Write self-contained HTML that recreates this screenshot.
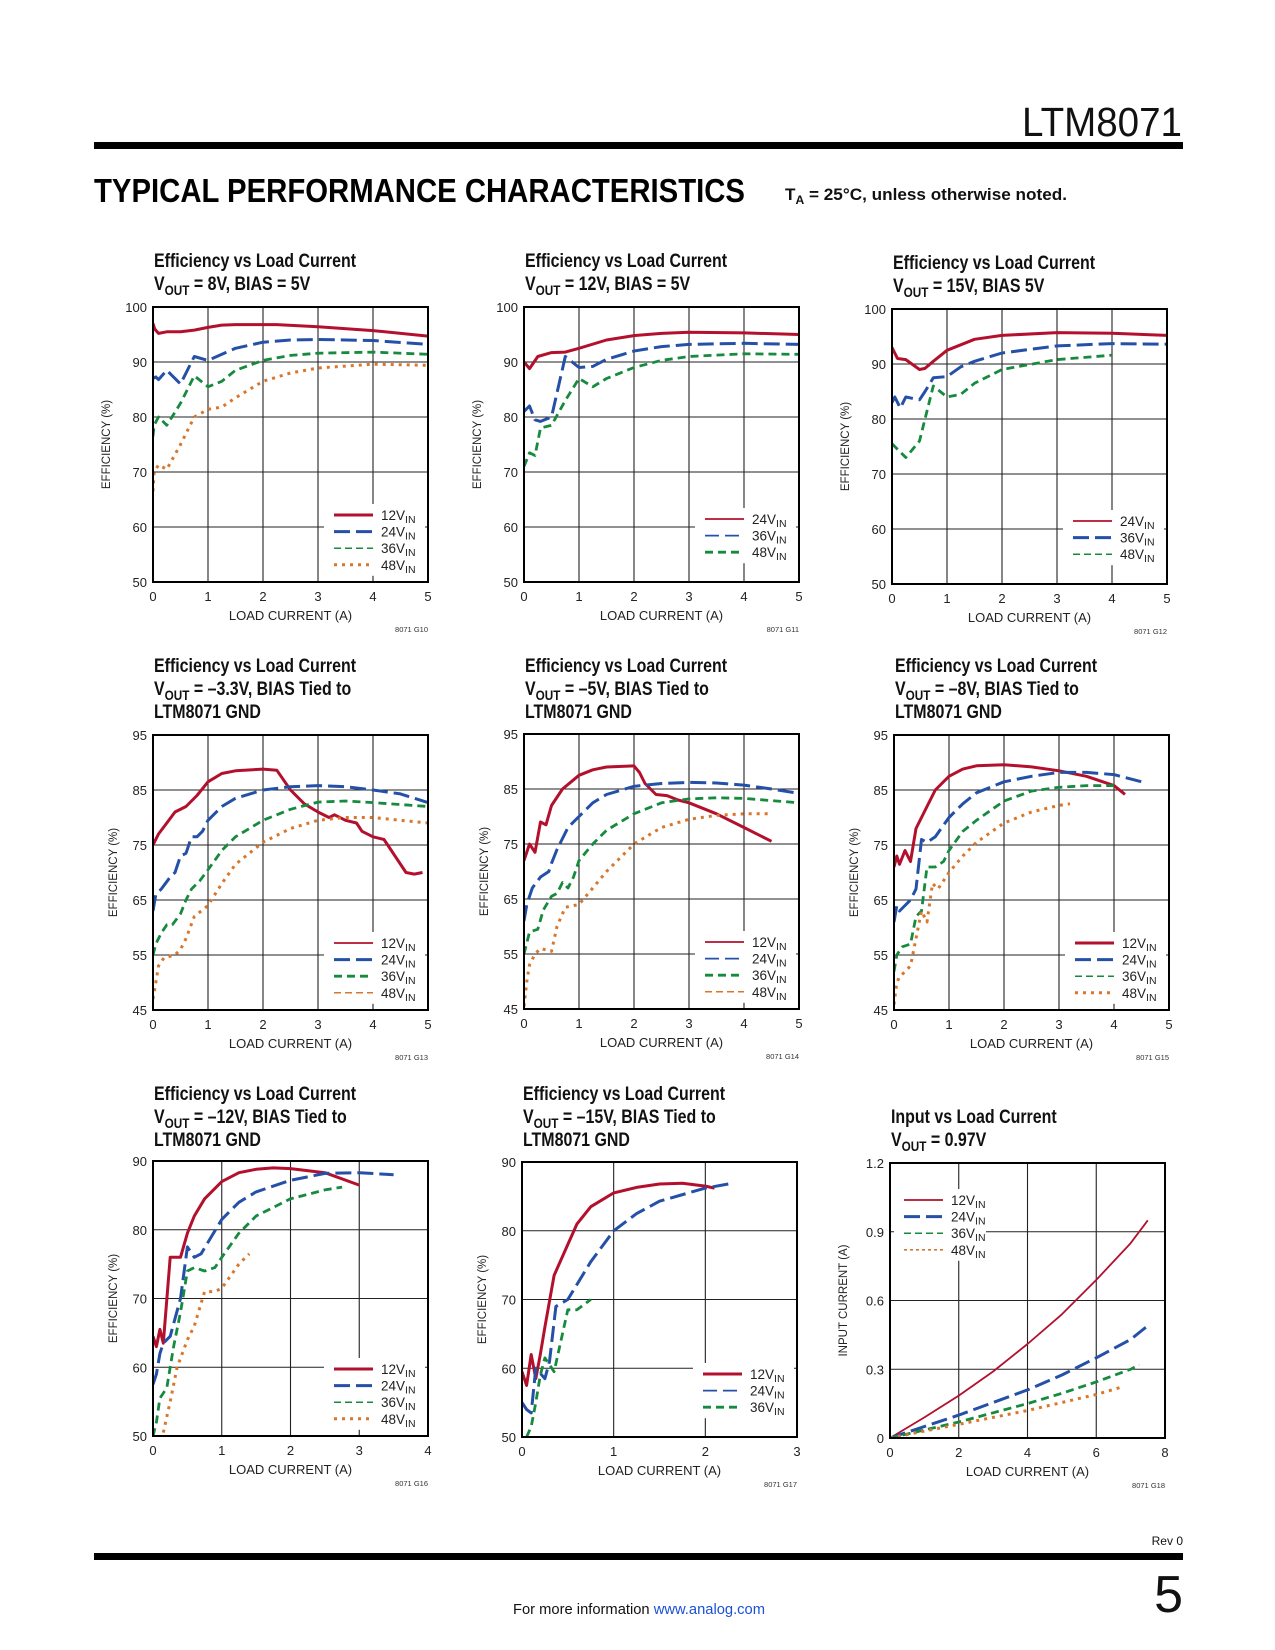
<!DOCTYPE html>
<html><head><meta charset="utf-8"><style>
html,body{margin:0;padding:0;background:#fff;}
svg{display:block;font-family:"Liberation Sans",sans-serif;}
</style></head><body>
<svg id="page" width="1275" height="1650" viewBox="0 0 1275 1650" xmlns="http://www.w3.org/2000/svg">
<text x="1182" y="136" text-anchor="end" font-size="41" fill="#111" font-weight="300" textLength="160" lengthAdjust="spacingAndGlyphs">LTM8071</text>
<rect x="94" y="142" width="1089" height="7" fill="#000"/>
<text x="94" y="202" font-size="33" font-weight="bold" fill="#000" textLength="651" lengthAdjust="spacingAndGlyphs" style="letter-spacing:0">TYPICAL PERFORMANCE CHARACTERISTICS</text>
<text x="785" y="200" font-size="17" font-weight="bold" fill="#111" textLength="282" lengthAdjust="spacingAndGlyphs">T<tspan font-size="12" dy="4">A</tspan><tspan dy="-4"> = 25°C, unless otherwise noted.</tspan></text>
<g id="charts"></g>
<text x="1183" y="1545" text-anchor="end" font-size="12" fill="#111">Rev 0</text>
<rect x="94" y="1553" width="1089" height="7" fill="#000"/>
<text x="1183" y="1612" text-anchor="end" font-size="52" fill="#111" font-weight="300">5</text>
<text x="639" y="1614" text-anchor="middle" font-size="15" fill="#111" textLength="252" lengthAdjust="spacingAndGlyphs">For more information <tspan fill="#1a4fd8">www.analog.com</tspan></text>
</svg>
<script>
// ---- Chart data (x = load current A, y = efficiency % / input current A) ----
const c1_12 = [[0,97],[0.03,96],[0.1,95.2],[0.25,95.5],[0.5,95.5],[0.75,95.8],[1,96.3],[1.25,96.7],[1.5,96.8],[2,96.8],[2.25,96.8],[3,96.4],[4,95.7],[5,94.7]];
const c1_24 = [[0,87],[0.05,87.3],[0.1,86.8],[0.25,88.5],[0.5,86],[0.75,91],[1,90.3],[1.5,92.5],[2,93.6],[2.5,94],[3,94.1],[4,93.9],[5,93.2]];
const c1_36 = [[0,76.5],[0.02,78.5],[0.1,80],[0.25,78.5],[0.5,82.5],[0.75,87.5],[1,85.5],[1.25,86.5],[1.5,88.5],[2,90.3],[2.5,91.2],[3,91.6],[4,91.8],[5,91.4]];
const c1_48 = [[0,66.5],[0.02,70],[0.1,71.3],[0.25,70.5],[0.5,75],[0.75,80],[1,81.4],[1.25,81.8],[1.5,83.5],[2,86.5],[2.5,88],[3,88.9],[4,89.6],[5,89.4]];

const c2_24 = [[0,90],[0.1,88.8],[0.25,91],[0.5,91.7],[0.75,91.8],[1,92.5],[1.5,94],[2,94.8],[2.5,95.2],[3,95.4],[4,95.3],[5,95]];
const c2_36 = [[0,81],[0.1,82],[0.2,79.5],[0.3,79.2],[0.5,80],[0.75,91],[1,89],[1.25,89.2],[1.5,90.5],[2,92],[2.5,92.8],[3,93.2],[4,93.4],[5,93.2]];
const c2_48 = [[0,71],[0.1,73.5],[0.2,73],[0.3,78],[0.5,78.5],[0.75,83],[1,87],[1.25,85.5],[1.5,87],[2,89],[2.5,90.3],[3,91],[4,91.5],[5,91.4]];

const c3_24 = [[0,93],[0.1,91],[0.25,90.8],[0.5,89],[0.6,89.2],[0.75,90.5],[1,92.5],[1.5,94.5],[2,95.2],[3,95.7],[4,95.6],[5,95.2]];
const c3_36 = [[0,83],[0.05,84],[0.15,82],[0.25,84],[0.5,83.5],[0.6,85],[0.75,87.5],[1,87.7],[1.25,89.5],[1.5,90.5],[2,92],[3,93.3],[4,93.7],[5,93.6]];
const c3_48 = [[0,75.5],[0.1,74.5],[0.25,73],[0.5,76],[0.6,80],[0.75,86],[1,84],[1.25,84.5],[1.5,86.5],[2,89],[3,90.8],[4,91.6]];

const c4_12 = [[0,75],[0.1,77],[0.25,79],[0.4,81],[0.6,82],[0.8,84],[1,86.5],[1.25,88],[1.5,88.5],[2,88.8],[2.25,88.6],[2.5,85],[2.75,82.5],[3,81],[3.2,80],[3.3,80.5],[3.5,79.5],[3.7,79],[3.8,77.5],[4,76.5],[4.2,76],[4.4,73],[4.6,70],[4.75,69.7],[4.9,70]];
const c4_24 = [[0,63],[0.05,66],[0.15,67],[0.3,69],[0.4,70],[0.5,73],[0.6,73.5],[0.7,76.5],[0.8,76.5],[0.9,77.5],[1,79.5],[1.25,82],[1.5,83.5],[2,85],[2.5,85.6],[3,85.8],[3.5,85.6],[4,85],[4.5,84.3],[5,82.7]];
const c4_36 = [[0,55],[0.05,57],[0.15,59],[0.25,60.5],[0.35,60.5],[0.5,62.5],[0.6,65],[0.7,67],[0.85,68.5],[1,70.5],[1.25,74],[1.5,76.5],[2,79.5],[2.5,81.5],[3,82.8],[3.5,83],[4,82.7],[5,82]];
const c4_48 = [[0,47],[0.05,50],[0.1,53],[0.2,54.5],[0.4,55],[0.5,56],[0.6,58],[0.75,62],[1,64],[1.25,68],[1.5,71.5],[2,75.5],[2.5,78],[3,79.5],[3.5,80],[4,80],[4.5,79.5],[5,79]];

const c5_12 = [[0,72],[0.1,75],[0.2,73.5],[0.3,79],[0.4,78.5],[0.5,82],[0.7,85],[1,87.5],[1.25,88.5],[1.5,89],[2,89.2],[2.1,88],[2.2,86],[2.4,84],[2.6,83.8],[2.8,83],[3,82.5],[3.5,80.5],[4,78],[4.3,76.5],[4.5,75.5]];
const c5_24 = [[0,61],[0.05,64],[0.15,67],[0.3,69],[0.45,70],[0.5,71.5],[0.6,74],[0.8,78],[1,80],[1.25,82.5],[1.5,84],[2,85.5],[2.5,86],[3,86.2],[3.5,86.1],[4,85.7],[4.5,85],[5,84.2]];
const c5_36 = [[0,55],[0.05,57],[0.1,59],[0.25,59.5],[0.35,63],[0.5,65.5],[0.6,66],[0.7,68],[0.8,67],[0.9,69],[1,72],[1.25,75],[1.5,77.5],[2,80.5],[2.5,82.5],[3,83.2],[3.5,83.4],[4,83.3],[5,82.5]];
const c5_48 = [[0,45.5],[0.05,50],[0.1,53],[0.2,55],[0.3,56],[0.5,55.5],[0.6,60],[0.75,63.5],[1,64],[1.25,67],[1.5,70],[2,75],[2.5,78],[3,79.5],[3.5,80.2],[4,80.5],[4.5,80.5]];

const c6_12 = [[0,71],[0.05,73],[0.1,71.5],[0.2,74],[0.3,72],[0.4,78],[0.5,80],[0.6,82],[0.75,85],[1,87.5],[1.25,88.8],[1.5,89.4],[2,89.6],[2.5,89.2],[3,88.5],[3.5,87.5],[4,85.8],[4.2,84.2]];
const c6_24 = [[0,61],[0.05,64],[0.1,63],[0.2,64],[0.3,65],[0.4,67],[0.5,76],[0.6,75.5],[0.75,76.5],[1,80],[1.25,82.5],[1.5,84.5],[2,86.5],[2.5,87.5],[3,88.2],[3.5,88.2],[4,87.8],[4.5,86.5]];
const c6_36 = [[0,52],[0.05,55],[0.15,56.5],[0.3,57],[0.4,62],[0.5,63],[0.6,71],[0.75,71],[0.9,72],[1,74],[1.25,77.5],[1.5,79.5],[2,83],[2.5,84.8],[3,85.5],[3.5,85.8],[4,85.8]];
const c6_48 = [[0,46],[0.05,50],[0.1,51],[0.2,52],[0.3,53],[0.4,58],[0.5,63],[0.6,61],[0.7,68],[0.8,67],[1,70],[1.25,73],[1.5,75.5],[2,79],[2.5,81],[3,82.2],[3.2,82.5]];

const c7_12 = [[0,64.5],[0.05,63],[0.1,65.5],[0.15,63.5],[0.25,76],[0.4,76],[0.5,79.5],[0.6,82],[0.75,84.5],[1,87],[1.25,88.3],[1.5,88.8],[1.75,89],[2,88.9],[2.5,88.3],[3,86.5]];
const c7_24 = [[0,57.5],[0.05,59],[0.1,62],[0.15,63.5],[0.25,64.5],[0.4,70],[0.5,77.5],[0.6,76],[0.7,76.5],[0.85,79],[1,81.5],[1.25,84],[1.5,85.5],[2,87.2],[2.5,88.2],[3,88.3],[3.5,88]];
const c7_36 = [[0,50],[0.05,52],[0.1,55.5],[0.2,57],[0.3,63],[0.4,68],[0.5,74],[0.6,74.5],[0.75,74],[0.9,74.5],[1,76],[1.25,79.5],[1.5,82],[2,84.5],[2.5,85.8],[2.75,86.2]];
const c7_48 = [[0.15,50.5],[0.25,55],[0.35,60],[0.5,64],[0.6,66],[0.75,71],[0.9,71],[1,71.5],[1.25,75],[1.4,76.5]];

const c8_12 = [[0,59.5],[0.05,57.5],[0.1,62],[0.15,58.5],[0.2,62],[0.25,66],[0.35,73.5],[0.5,78],[0.6,81],[0.75,83.5],[1,85.5],[1.25,86.3],[1.5,86.8],[1.75,86.9],[2,86.5],[2.1,86.2]];
const c8_24 = [[0,55],[0.05,54],[0.1,53.5],[0.15,60],[0.25,58.5],[0.3,61],[0.37,69],[0.5,70],[0.75,75.5],[1,80],[1.25,82.5],[1.5,84.3],[2,86.2],[2.25,86.8]];
const c8_36 = [[0.05,50],[0.1,51.5],[0.15,55],[0.2,59],[0.25,61.5],[0.35,59.5],[0.5,68.5],[0.6,68.5],[0.75,70]];

const c9_12 = [[0,0],[1,0.09],[2,0.185],[3,0.29],[4,0.41],[5,0.54],[6,0.69],[7,0.85],[7.5,0.95]];
const c9_24 = [[0,0],[1,0.05],[2,0.1],[3,0.155],[4,0.21],[5,0.275],[6,0.35],[7,0.43],[7.5,0.49]];
const c9_36 = [[0,0],[1,0.035],[2,0.07],[3,0.11],[4,0.15],[5,0.195],[6,0.245],[7,0.3],[7.25,0.32]];
const c9_48 = [[0,0],[1,0.03],[2,0.06],[3,0.09],[4,0.12],[5,0.155],[6,0.19],[6.8,0.225]];

const xTicks5 = ["0","1","2","3","4","5"];
const xTicks4 = ["0","1","2","3","4"];
const xTicks3 = ["0","1","2","3"];
const xTicks8 = ["0","2","4","6","8"];
const yTicks100 = ["50","60","70","80","90","100"];
const yTicks95 = ["45","55","65","75","85","95"];
const yTicks90 = ["50","60","70","80","90"];
const yTicksIn = ["0","0.3","0.6","0.9","1.2"];
const legendLabels4 = ["12","24","36","48"];
const legendLabels3 = ["24","36","48"];
const legendLabels3b = ["12","24","36"];

// ---- styles ----
const RED="#b3102d", BLUE="#2450a8", GREEN="#168a3e", ORANGE="#d8772c";
const ST = {
  solidT:{w:3,d:""}, solidN:{w:1.8,d:""},
  longT:{w:3,d:"16 6"}, longN:{w:1.8,d:"14 6"},
  dashT:{w:2.8,d:"8 5"}, dashN:{w:1.5,d:"7 4"},
  dotT:{w:3,d:"3 5"}, dotN:{w:1.6,d:"3 3"}
};
const NS="http://www.w3.org/2000/svg";
const root=document.getElementById('charts');
function mk(tag,attrs,parent){const e=document.createElementNS(NS,tag);for(const k in attrs)e.setAttribute(k,attrs[k]);(parent||root).appendChild(e);return e;}

const charts = [
 {id:"g10",L:153,T:307,title:["Efficiency vs Load Current",["8V, BIAS = 5V"]],tY:267,xmax:5,ymin:50,ymax:100,xt:xTicks5,yt:yTicks100,ylab:"EFFICIENCY (%)",
  series:[[c1_12,RED,ST.solidT],[c1_24,BLUE,ST.longT],[c1_36,GREEN,ST.dashT],[c1_48,ORANGE,ST.dotT]],
  leg:legendLabels4,legSt:[ST.solidT,ST.longT,ST.dashN,ST.dotT],legCol:[RED,BLUE,GREEN,ORANGE],legPos:"br4"},
 {id:"g11",L:524,T:307,title:["Efficiency vs Load Current",["12V, BIAS = 5V"]],tY:267,xmax:5,ymin:50,ymax:100,xt:xTicks5,yt:yTicks100,ylab:"EFFICIENCY (%)",
  series:[[c2_24,RED,ST.solidT],[c2_36,BLUE,ST.longT],[c2_48,GREEN,ST.dashT]],
  leg:legendLabels3,legSt:[ST.solidN,ST.longN,ST.dashT],legCol:[RED,BLUE,GREEN],legPos:"br3"},
 {id:"g12",L:892,T:309,title:["Efficiency vs Load Current",["15V, BIAS 5V"]],tY:269,xmax:5,ymin:50,ymax:100,xt:xTicks5,yt:yTicks100,ylab:"EFFICIENCY (%)",
  series:[[c3_24,RED,ST.solidT],[c3_36,BLUE,ST.longT],[c3_48,GREEN,ST.dashT]],
  leg:legendLabels3,legSt:[ST.solidN,ST.longT,ST.dashN],legCol:[RED,BLUE,GREEN],legPos:"br3"},
 {id:"g13",L:153,T:735,title:["Efficiency vs Load Current",["–3.3V, BIAS Tied to"],"LTM8071 GND"],tY:672,xmax:5,ymin:45,ymax:95,xt:xTicks5,yt:yTicks95,ylab:"EFFICIENCY (%)",
  series:[[c4_12,RED,ST.solidT],[c4_24,BLUE,ST.longT],[c4_36,GREEN,ST.dashT],[c4_48,ORANGE,ST.dotT]],
  leg:legendLabels4,legSt:[ST.solidN,ST.longT,ST.dashT,ST.dashN],legCol:[RED,BLUE,GREEN,ORANGE],legPos:"br4"},
 {id:"g14",L:524,T:734,title:["Efficiency vs Load Current",["–5V, BIAS Tied to"],"LTM8071 GND"],tY:672,xmax:5,ymin:45,ymax:95,xt:xTicks5,yt:yTicks95,ylab:"EFFICIENCY (%)",
  series:[[c5_12,RED,ST.solidT],[c5_24,BLUE,ST.longT],[c5_36,GREEN,ST.dashT],[c5_48,ORANGE,ST.dotT]],
  leg:legendLabels4,legSt:[ST.solidN,ST.longN,ST.dashT,ST.dashN],legCol:[RED,BLUE,GREEN,ORANGE],legPos:"br4"},
 {id:"g15",L:894,T:735,title:["Efficiency vs Load Current",["–8V, BIAS Tied to"],"LTM8071 GND"],tY:672,xmax:5,ymin:45,ymax:95,xt:xTicks5,yt:yTicks95,ylab:"EFFICIENCY (%)",
  series:[[c6_12,RED,ST.solidT],[c6_24,BLUE,ST.longT],[c6_36,GREEN,ST.dashT],[c6_48,ORANGE,ST.dotT]],
  leg:legendLabels4,legSt:[ST.solidT,ST.longT,ST.dashN,ST.dotT],legCol:[RED,BLUE,GREEN,ORANGE],legPos:"br4"},
 {id:"g16",L:153,T:1161,title:["Efficiency vs Load Current",["–12V, BIAS Tied to"],"LTM8071 GND"],tY:1100,xmax:4,ymin:50,ymax:90,xt:xTicks4,yt:yTicks90,ylab:"EFFICIENCY (%)",
  series:[[c7_12,RED,ST.solidT],[c7_24,BLUE,ST.longT],[c7_36,GREEN,ST.dashT],[c7_48,ORANGE,ST.dotT]],
  leg:legendLabels4,legSt:[ST.solidT,ST.longT,ST.dashN,ST.dotT],legCol:[RED,BLUE,GREEN,ORANGE],legPos:"br4"},
 {id:"g17",L:522,T:1162,title:["Efficiency vs Load Current",["–15V, BIAS Tied to"],"LTM8071 GND"],tY:1100,xmax:3,ymin:50,ymax:90,xt:xTicks3,yt:yTicks90,ylab:"EFFICIENCY (%)",
  series:[[c8_12,RED,ST.solidT],[c8_24,BLUE,ST.longT],[c8_36,GREEN,ST.dashT]],
  leg:legendLabels3b,legSt:[ST.solidT,ST.longN,ST.dashT],legCol:[RED,BLUE,GREEN],legPos:"br3"},
 {id:"g18",L:890,T:1163,title:["Input vs Load Current",["0.97V"]],tY:1123,xmax:8,ymin:0,ymax:1.2,xt:xTicks8,yt:yTicksIn,ylab:"INPUT CURRENT (A)",
  series:[[c9_12,RED,ST.solidN],[c9_24,BLUE,ST.longT],[c9_36,GREEN,ST.dashT],[c9_48,ORANGE,ST.dotT]],
  leg:legendLabels4,legSt:[ST.solidN,ST.longT,ST.dashN,ST.dotN],legCol:[RED,BLUE,GREEN,ORANGE],legPos:"tl"}
];

charts.forEach(function(c){
  const W=275,H=275,L=c.L,T=c.T,R=L+W,B=T+H;
  const g=mk('g',{});
  
  
  const sx=v=>L+v/c.xmax*W;
  const sy=v=>B-(v-c.ymin)/(c.ymax-c.ymin)*H;
  // title
  c.title.forEach(function(line,i){
    const t=mk('text',{x:0,y:0,'font-size':19,'font-weight':'bold',fill:'#111',transform:'translate('+(L+1)+','+(c.tY+i*23)+') scale(0.84,1)'},g);
    
    
    if(Array.isArray(line)){
      t.appendChild(document.createTextNode('V'));
      const s=mk('tspan',{'font-size':14,dy:5},t);s.textContent='OUT';
      const s2=mk('tspan',{dy:-5},t);s2.textContent=' = '+line[0];
    } else t.textContent=line;
  });
  // grid
  const nx=c.xt.length-1, ny=c.yt.length-1;
  for(let i=1;i<nx;i++){const x=L+W*i/nx;const l=mk('line',{x1:x,y1:T,x2:x,y2:B,stroke:'#222','stroke-width':1.1},g);}
  for(let j=1;j<ny;j++){const y=B-H*j/ny;const l=mk('line',{x1:L,y1:y,x2:R,y2:y,stroke:'#222','stroke-width':1.1},g);}
  // legend box (white, hides grid)
  let lx1,lx2,ly0,rows=c.leg.length;
  if(c.legPos==='tl'){lx1=L+14;ly0=T+37;}
  else {lx1=R-94;ly0=(c.legPos==='br4')?B-67:B-63;}
  lx2=lx1+39;
  const bx=lx1-10,by=ly0-11,bw=(c.legPos==='tl')?92:(R-3-bx),bh=(rows-1)*16.6+22;
  const box=mk('rect',{x:bx,y:by,width:bw,height:bh,fill:'#fff'},g);
  
  
  // clip
  const cp=mk('clipPath',{id:'clip-'+c.id},g);mk('rect',{x:L,y:T,width:W,height:H},cp);
  // series
  c.series.forEach(function(s,k){
    const d=s[0].map((p,i)=>(i?'L':'M')+sx(p[0]).toFixed(1)+','+sy(p[1]).toFixed(1)).join(' ');
    const p=mk('path',{d:d,fill:'none',stroke:s[1],'stroke-width':s[2].w,'stroke-dasharray':s[2].d,'stroke-linejoin':'round','clip-path':'url(#clip-'+c.id+')'},g);
    
    
  });
  // frame
  const f=mk('rect',{x:L,y:T,width:W,height:H,fill:'none',stroke:'#000','stroke-width':2},g);
  
  
  // legend entries
  c.leg.forEach(function(lab,k){
    const y=ly0+k*16.6;
    const ln=mk('line',{x1:lx1,y1:y,x2:lx2,y2:y,stroke:c.legCol[k],'stroke-width':c.legSt[k].w,'stroke-dasharray':c.legSt[k].d},g);
    
    
    const t=mk('text',{x:lx2+8,y:y+5,'font-size':13.5,fill:'#222'},g);
    
    
    t.appendChild(document.createTextNode(lab+'V'));
    const s=mk('tspan',{'font-size':10.5,dy:3},t);s.textContent='IN';
  });
  // ticks
  c.xt.forEach(function(v,i){
    const t=mk('text',{x:L+W*i/nx,y:B+19,'text-anchor':'middle','font-size':13,fill:'#222'},g);
    
    
    t.textContent=v;
  });
  let maxLen=0;
  c.yt.forEach(function(v,j){
    maxLen=Math.max(maxLen,v.length);
    const t=mk('text',{x:L-6,y:B-H*j/ny+5,'text-anchor':'end','font-size':13,fill:'#222'},g);
    
    
    t.textContent=v;
  });
  const yx=L-(maxLen>=3?43:36), ym=T+H/2;
  const yl=mk('text',{x:yx,y:ym,'text-anchor':'middle','font-size':11.5,fill:'#222',transform:'rotate(-90 '+yx+' '+ym+')'},g);
  
  
  yl.textContent=c.ylab;
  const xl=mk('text',{x:L+W/2,y:B+38,'text-anchor':'middle','font-size':13,fill:'#222'},g);
  
  
  xl.textContent='LOAD CURRENT (A)';
  const code=mk('text',{x:R,y:B+50,'text-anchor':'end','font-size':7.5,fill:'#333'},g);
  
  
  code.textContent='8071 '+c.id.toUpperCase();
});
</script>
</body></html>
